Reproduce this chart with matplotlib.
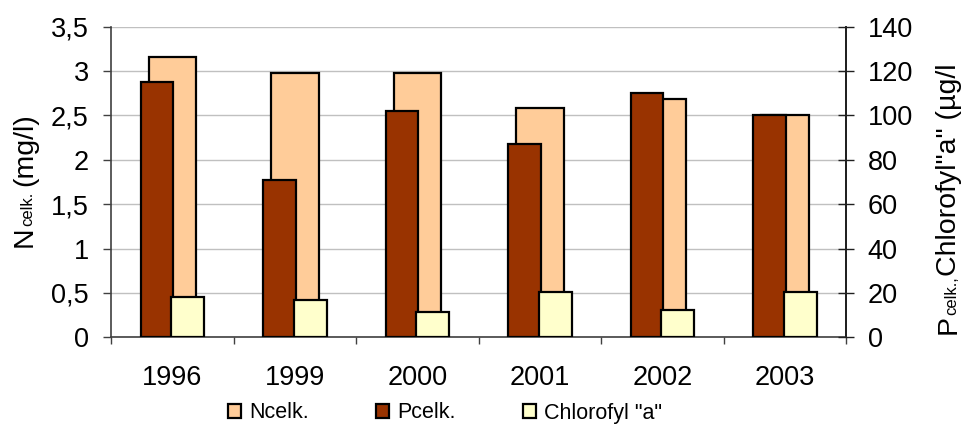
import matplotlib
matplotlib.use("Agg")
import matplotlib.pyplot as plt
import numpy as np
from matplotlib.ticker import FixedLocator, NullFormatter

plt.rcParams['font.family'] = ['Liberation Sans', 'DejaVu Sans']

# Data
years = ["1996", "1999", "2000", "2001", "2002", "2003"]
n_celk = [3.16, 2.98, 2.98, 2.58, 2.69, 2.50]          # mg/l, left axis
p_celk = [115, 71, 102, 87, 110, 100]                   # µg/l, right axis
chlorofyl = [18, 17, 11.5, 20.5, 12.5, 20.5]            # µg/l, right axis

left_ticks = [0, 0.5, 1, 1.5, 2, 2.5, 3, 3.5]
left_ticklabels = ["0", "0,5", "1", "1,5", "2", "2,5", "3", "3,5"]
right_ticks = [0, 20, 40, 60, 80, 100, 120, 140]

W, H = 964, 424
fig = plt.figure(figsize=(W / 100, H / 100), dpi=100)
ax = fig.add_axes([111 / W, 1 - 337.3 / H, (846 - 111) / W, (337.3 - 26.7) / H])
ax2 = ax.twinx()

x = np.arange(len(years))
c_n, c_p, c_chl = "#FFCC99", "#993300", "#FFFFCC"
edge_kw = dict(edgecolor="black", linewidth=1.6)

bn = ax.bar(x + 0.002, n_celk, width=0.388, color=c_n, zorder=2, label="Ncelk.", **edge_kw)
bp = ax2.bar(x - 0.124, p_celk, width=0.265, color=c_p, zorder=2, label="Pcelk.", **edge_kw)
bc = ax2.bar(x + 0.126, chlorofyl, width=0.268, color=c_chl, zorder=3, label='Chlorofyl "a"', **edge_kw)

ax.set_xlim(-0.5, len(years) - 0.5)
ax.set_ylim(0, 3.5)
ax2.set_ylim(0, 140)

# gridlines on the primary axis
ax.set_axisbelow(True)
ax.yaxis.grid(True, color="#c0c0c0", linewidth=1.0)

ax.set_yticks(left_ticks)
ax.set_yticklabels(left_ticklabels)
ax2.set_yticks(right_ticks)

ax.set_xticks(x)
ax.set_xticklabels(years)
ax.xaxis.set_minor_locator(FixedLocator(np.arange(-0.5, len(years), 1.0)))
ax.xaxis.set_minor_formatter(NullFormatter())

tick_fs = 19.5
ax.tick_params(axis="x", which="major", length=0, pad=20, labelsize=tick_fs)
ax.tick_params(axis="x", which="minor", length=5, width=1, color="#404040", direction="out")
ax.tick_params(axis="y", length=6, width=1, color="#404040", direction="out", pad=10, labelsize=tick_fs)
ax2.tick_params(axis="y", length=11, width=1, color="#202020", direction="inout", pad=10, labelsize=tick_fs)

for a in (ax, ax2):
    a.spines["top"].set_visible(False)
ax.spines["left"].set_color("#404040")
ax.spines["bottom"].set_color("#404040")
ax2.spines["right"].set_color("#202020")
ax2.spines["left"].set_visible(False)
ax2.spines["bottom"].set_visible(False)
for a in (ax, ax2):
    for s in a.spines.values():
        s.set_linewidth(1.2)

# axis titles with the "celk." index written small on the baseline
fig.canvas.draw()
renderer = fig.canvas.get_renderer()


def vertical_title(x_px, y_px, pieces):
    y = y_px
    for text, size, gap in pieces:
        t = fig.text(x_px / W, y / H, text, rotation=90, rotation_mode="anchor",
                     ha="left", va="baseline", fontsize=size)
        w, _, _ = renderer.get_text_width_height_descent(text, t.get_fontproperties(), ismath=False)
        y += w + gap


big, small = 20.5, 12
vertical_title(32, H - 247, [("N", big, 0), ("celk.", small, 6), ("(mg/l)", big, 0)])
vertical_title(956, H - 334, [("P", big, 0), ("celk.,", small, 0), ('Chlorofyl"a" (µg/l', big, 0)])

fig.legend(handles=[bn, bp, bc], loc="center", bbox_to_anchor=(445 / W, 1 - 413 / H),
           ncol=3, frameon=False, fontsize=15.5, handlelength=0.6, handleheight=0.6,
           handletextpad=0.4, columnspacing=3.1, borderpad=0, borderaxespad=0)

fig.savefig("out.png", dpi=100)
